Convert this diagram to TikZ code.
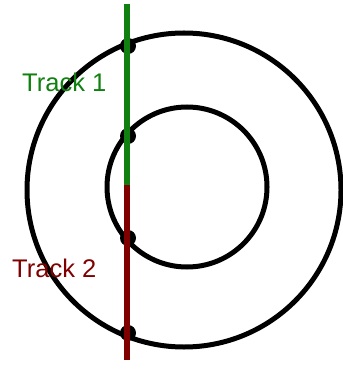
\documentclass[tikz,border=0pt]{standalone}
\usepackage{fontspec}
\setmainfont{Liberation Sans}
\definecolor{trackgreen}{RGB}{16,128,16}
\definecolor{trackred}{RGB}{128,0,0}
\begin{document}
\begin{tikzpicture}[x=1pt,y=-1pt,
  ring/.style={draw=black,line width=5pt},
  dotmark/.style={fill=black},
  trackline/.style={line width=6pt},
  tracklabel/.style={anchor=base west,inner sep=0pt,font=\fontsize{25.5}{30}\selectfont}]
\useasboundingbox (0,0) rectangle (342,371);
\coordinate (oc) at (184,190);
\coordinate (ic) at (187,187);
\draw[ring] (oc) circle[radius=157];
\draw[ring] (ic) circle[radius=80];
\fill[dotmark] (128,46) circle[radius=8];
\fill[dotmark] (128,136) circle[radius=8];
\fill[dotmark] (128,238) circle[radius=8];
\fill[dotmark] (128,333) circle[radius=8];
\coordinate (top) at (127,4);
\coordinate (mid) at (127,185);
\coordinate (bot) at (127,360);
\draw[trackline,trackgreen] (top) -- (mid);
\draw[trackline,trackred] (mid) -- (bot);
\node[tracklabel,text=trackgreen] (t1) at (22,92) {Track 1};
\node[tracklabel,text=trackred] (t2) at (12,277) {Track 2};
\end{tikzpicture}
\end{document}
